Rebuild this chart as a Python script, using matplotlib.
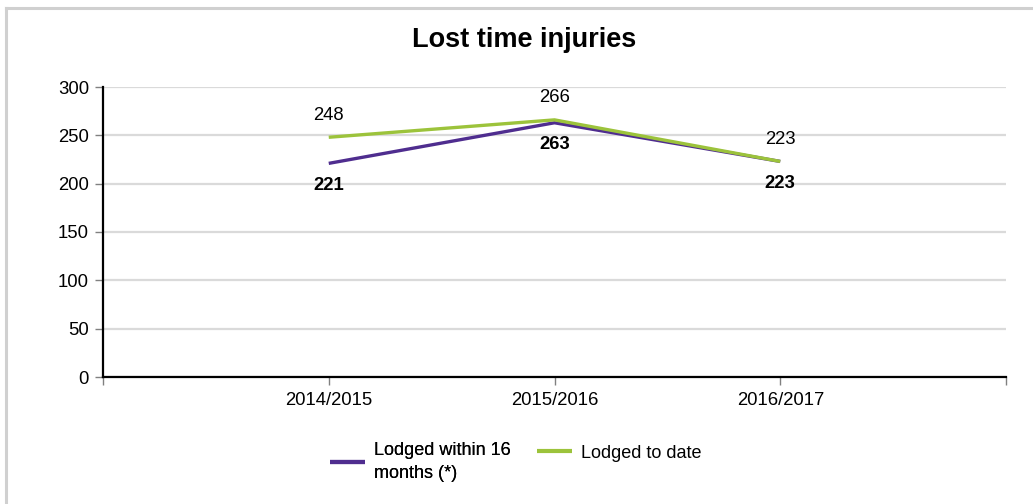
import matplotlib
matplotlib.use("Agg")
import matplotlib.pyplot as plt
from matplotlib.lines import Line2D

plt.rcParams['font.family'] = ['Liberation Sans', 'DejaVu Sans']

categories = ['2014/2015', '2015/2016', '2016/2017']
within_16 = [221, 263, 223]
to_date = [248, 266, 223]
title = 'Lost time injuries'
label_within = 'Lodged within 16\nmonths (*)'
label_to_date = 'Lodged to date'

PURPLE = '#4F2D8F'
GREEN = '#9CC33B'
FS = 13.3

fig = plt.figure(figsize=(10.33, 5.04), dpi=100)
ax = fig.add_axes([103/1033, 1-377/504, (1006-103)/1033, (377-87)/504])

xs = list(range(1, len(categories)+1))
l1, = ax.plot(xs, within_16, color=PURPLE, lw=2.4, solid_capstyle='butt', zorder=3)
l2, = ax.plot(xs, to_date, color=GREEN, lw=2.4, solid_capstyle='butt', zorder=3)

for x, v in zip(xs, within_16):
    ax.annotate(str(v), (x, v), xytext=(0, -16), textcoords='offset points',
                ha='center', va='center', fontsize=FS, fontweight='bold', color='black')
for x, v in zip(xs, to_date):
    ax.annotate(str(v), (x, v), xytext=(0, 16), textcoords='offset points',
                ha='center', va='center', fontsize=FS, color='black')

ax.set_xlim(0, len(categories)+1)
ax.set_ylim(0, 300)
ax.set_yticks(range(0, 301, 50))
ax.set_xticks(range(0, len(categories)+2))
ax.set_xticklabels([''] + categories + [''])
ax.tick_params(axis='both', labelsize=FS, colors='#808080', labelcolor='black', length=6, width=1)
ax.tick_params(axis='x', pad=5)
ax.tick_params(axis='y', pad=4)
ax.grid(axis='y', color='#DADADA', lw=1.6)
ax.set_axisbelow(True)
for s in ['top', 'right']:
    ax.spines[s].set_visible(False)
for s in ['left', 'bottom']:
    ax.spines[s].set_linewidth(1.6)
    ax.spines[s].set_color('black')

fig.text(524/1033, 1-40/504, title, ha='center', va='center', fontsize=19.5, fontweight='bold')

leg1 = fig.legend(handles=[l1], labels=[label_within], loc='center left',
                  bbox_to_anchor=(330/1033, 1-462/504), frameon=False, fontsize=13,
                  handlelength=1.95, handletextpad=0.5, borderpad=0, borderaxespad=0)
leg1.get_lines()[0].set_linewidth(3)
for t in leg1.get_texts():
    t.set_linespacing(1.4)
leg2 = fig.legend(handles=[l2], labels=[label_to_date], loc='center left',
                  bbox_to_anchor=(537/1033, 1-453/504), frameon=False, fontsize=13,
                  handlelength=1.95, handletextpad=0.5, borderpad=0, borderaxespad=0)
leg2.get_lines()[0].set_linewidth(3)
fig.add_artist(leg1)

# panel border (top and left)
fig.add_artist(Line2D([6/1033, 1], [1-8/504, 1-8/504], transform=fig.transFigure, color='#D0D0D0', lw=2.2))
fig.add_artist(Line2D([6/1033, 6/1033], [0, 1-8/504], transform=fig.transFigure, color='#D0D0D0', lw=2.2))

fig.savefig('out.png', dpi=100)
